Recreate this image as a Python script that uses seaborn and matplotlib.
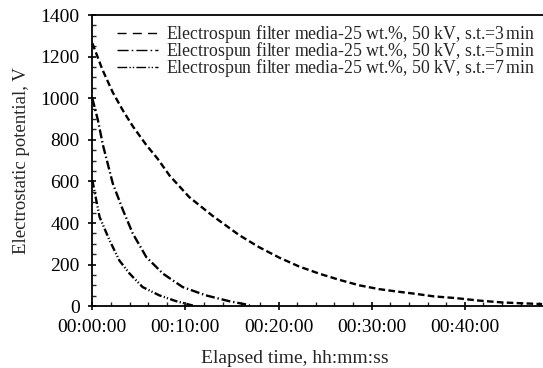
import matplotlib
matplotlib.use("Agg")
import matplotlib.pyplot as plt
import matplotlib.ticker as mticker
import seaborn as sns
import pandas as pd

# Elapsed time in minutes, potential in volts
t1 = [0, 1.1, 2.2, 3.3, 4.35, 5.8, 7.0, 8.3, 10.4, 12.9, 15.8, 17.9, 20.1, 22.2,
      24.4, 26.5, 28.7, 30.8, 32.6, 34.6, 36.7, 39.0, 41.5, 44.0, 46.1, 48.3]
v1 = [1265, 1136, 1028, 940, 865, 775, 710, 628, 525, 435, 341, 284, 233, 191,
      156, 127, 100, 82, 71, 60, 47, 39, 27, 18, 14, 10]
t2 = [0, 0.6, 1.14, 2.2, 3.3, 4.35, 5.8, 7.6, 9.7, 12.2, 14.7, 16.9]
v2 = [1000, 895, 775, 590, 461, 349, 236, 156, 92, 52, 24, 5]
t3 = [0, 0.78, 1.85, 2.9, 4.0, 5.4, 7.2, 9.0, 10.8]
v3 = [606, 429, 317, 220, 157, 92, 52, 24, 3]
labels = ["Electrospun filter media-25 wt.%, 50 kV, s.t.=3$\\,$min",
          "Electrospun filter media-25 wt.%, 50 kV, s.t.=5$\\,$min",
          "Electrospun filter media-25 wt.%, 50 kV, s.t.=7$\\,$min"]
x_ticks = [0, 10, 20, 30, 40]
x_ticklabels = ["00:00:00", "00:10:00", "00:20:00", "00:30:00", "00:40:00"]
y_ticks = [0, 200, 400, 600, 800, 1000, 1200, 1400]

sns.set_style("ticks")
plt.rcParams["font.family"] = ["Liberation Serif", "DejaVu Serif"]
plt.rcParams["mathtext.fontset"] = "stix"

fig = plt.figure(figsize=(5.43, 3.68), dpi=100)
ax = fig.add_axes([0.170, 0.168, 0.830, 0.791])

styles = [(0, (2.8, 1.4)), (0, (3.8, 1.2, 0.6, 1.2)), (0, (3.2, 1.0, 0.5, 0.9, 0.5, 1.0))]
leg_styles = [(0, (6.5, 4.5)), (0, (8, 2.2, 1.2, 2.2)), (0, (7, 1.6, 1.0, 1.4, 1.0, 1.6))]
for t, v, lab, ls in zip([t1, t2, t3], [v1, v2, v3], labels, styles):
    df = pd.DataFrame({"t": t, "v": v})
    sns.lineplot(data=df, x="t", y="v", ax=ax, color="black", lw=1.7,
                 linestyle=ls, label=lab)

ax.set_xlim(0, 48.4)
ax.set_ylim(0, 1400)
ax.set_xticks(x_ticks)
ax.set_xticklabels(x_ticklabels)
ax.set_yticks(y_ticks)
ax.xaxis.set_minor_locator(mticker.MultipleLocator(2))
ax.yaxis.set_minor_locator(mticker.MultipleLocator(50))
ax.tick_params(which="major", direction="inout", length=6, width=1.2,
               labelsize=14, colors="black")
ax.tick_params(axis="x", which="major", pad=6)
ax.tick_params(axis="y", which="major", pad=6)
ax.tick_params(which="minor", direction="in", length=3, width=1.0)
ax.spines["right"].set_visible(False)
for s in ["left", "bottom", "top"]:
    ax.spines[s].set_linewidth(1.3)
    ax.spines[s].set_color("black")

ax.set_xlabel("Elapsed time, hh:mm:ss", fontsize=14)
ax.set_ylabel("Electrostatic potential, V", fontsize=13.5)
ax.xaxis.set_label_coords(0.45, -0.15)
ax.yaxis.set_label_coords(-0.138, 0.5)

leg = ax.legend(loc="upper right", frameon=False, fontsize=12.8,
                labelspacing=-0.28, handlelength=2.3, handletextpad=0.45,
                borderaxespad=0.2, borderpad=0.25, bbox_to_anchor=(1.0, 1.0))
for line, ls in zip(leg.get_lines(), leg_styles):
    line.set_linewidth(1.0)
    line.set_linestyle(ls)

fig.savefig("out.png", dpi=100)
